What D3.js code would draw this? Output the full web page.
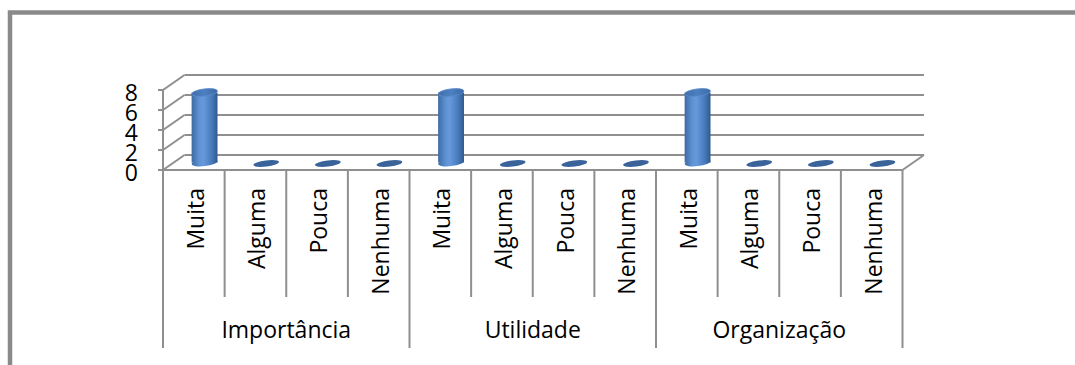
<!DOCTYPE html>
<html>
<head>
<meta charset="utf-8">
<script src="https://cdn.jsdelivr.net/npm/d3@7"></script>
<style>
  html, body { margin: 0; padding: 0; background: #ffffff; }
  svg { display: block; }
  text { font-family: "Open Sans", "Noto Sans", sans-serif; fill: #000; }
</style>
</head>
<body>
<svg id="chart" width="1075" height="365"></svg>
<script>
// Survey answers per aspect (number of respondents)
const groups = ["Importância", "Utilidade", "Organização"];
const levels = ["Muita", "Alguma", "Pouca", "Nenhuma"];
const importancia = [7, 0, 0, 0];
const utilidade = [7, 0, 0, 0];
const organizacao = [7, 0, 0, 0];
const yTicks = [0, 2, 4, 6, 8];

const seriesByGroup = [importancia, utilidade, organizacao];
const rows = [];
groups.forEach((g, gi) => levels.forEach((l, li) => {
  rows.push({ key: g + "|" + l, group: g, level: l, value: seriesByGroup[gi][li] });
}));

const svg = d3.select("#chart");

// plot geometry (front plane) and 3D depth offset
const x = d3.scaleBand().domain(rows.map(d => d.key)).range([163, 902.5]).padding(0);
const y = d3.scaleLinear().domain([0, 8]).range([170, 90]);
const depth = { dx: 21.5, dy: -15 };
const gridColor = "#8f8f8f";

// outer chart frame
svg.append("rect")
  .attr("x", 10).attr("y", 12.5)
  .attr("width", 1100).attr("height", 400)
  .attr("fill", "none").attr("stroke", "#8a8a8a").attr("stroke-width", 4.5);

const x0 = x.range()[0], x1 = x.range()[1];

// back wall gridlines
svg.append("g").selectAll("line").data(yTicks).join("line")
  .attr("x1", x0 + depth.dx).attr("x2", x1 + depth.dx)
  .attr("y1", d => y(d) + depth.dy).attr("y2", d => y(d) + depth.dy)
  .attr("stroke", gridColor).attr("stroke-width", 2);

// side wall gridlines
svg.append("g").selectAll("line").data(yTicks).join("line")
  .attr("x1", x0).attr("y1", d => y(d))
  .attr("x2", x0 + depth.dx).attr("y2", d => y(d) + depth.dy)
  .attr("stroke", gridColor).attr("stroke-width", 2);

// floor front edge and right edge
svg.append("line")
  .attr("x1", x0).attr("x2", x1).attr("y1", y(0)).attr("y2", y(0))
  .attr("stroke", gridColor).attr("stroke-width", 2);
svg.append("line")
  .attr("x1", x1).attr("y1", y(0)).attr("x2", x1 + depth.dx).attr("y2", y(0) + depth.dy)
  .attr("stroke", gridColor).attr("stroke-width", 2);

// value axis
svg.append("line")
  .attr("x1", x0).attr("x2", x0).attr("y1", y(8)).attr("y2", y(0))
  .attr("stroke", gridColor).attr("stroke-width", 2);
svg.append("g").selectAll("line").data(yTicks).join("line")
  .attr("x1", x0 - 5).attr("x2", x0).attr("y1", d => y(d)).attr("y2", d => y(d))
  .attr("stroke", gridColor).attr("stroke-width", 2);
svg.append("g").selectAll("text").data(yTicks).join("text")
  .attr("x", 138).attr("y", d => y(d) + 1.5)
  .attr("text-anchor", "end").attr("dominant-baseline", "central")
  .attr("font-size", 23)
  .text(d => d);

// cylinder shading
const defs = svg.append("defs");
const grad = defs.append("linearGradient").attr("id", "cyl")
  .attr("x1", "0%").attr("x2", "100%").attr("y1", "0%").attr("y2", "0%");
[["0%", "#3d6aa3"], ["30%", "#5f93d6"], ["45%", "#6699dc"], ["75%", "#4a7dbf"], ["100%", "#2f5a91"]]
  .forEach(([o, c]) => grad.append("stop").attr("offset", o).attr("stop-color", c));
const capGrad = defs.append("linearGradient").attr("id", "cap")
  .attr("x1", "0%").attr("x2", "100%").attr("y1", "0%").attr("y2", "0%");
[["0%", "#3f6eab"], ["50%", "#4d80c2"], ["100%", "#3b69a4"]]
  .forEach(([o, c]) => capGrad.append("stop").attr("offset", o).attr("stop-color", c));

const rx = x.bandwidth() * 0.21;
const ry = 3.6;
const tilt = -7;
const cx = d => x(d.key) + x.bandwidth() / 2 + depth.dx / 2;
const yAt = v => y(v) + depth.dy / 2;

const bars = svg.append("g").selectAll("g").data(rows).join("g");
bars.each(function (d) {
  const g = d3.select(this);
  const c = cx(d), yb = yAt(0), yt = yAt(d.value);
  if (d.value > 0) {
    g.append("ellipse").attr("cx", c).attr("cy", yb).attr("rx", rx).attr("ry", ry)
      .attr("transform", `rotate(${tilt},${c},${yb})`).attr("fill", "url(#cyl)");
    g.append("rect").attr("x", c - rx).attr("y", yt).attr("width", 2 * rx).attr("height", yb - yt)
      .attr("fill", "url(#cyl)");
    g.append("ellipse").attr("cx", c).attr("cy", yt).attr("rx", rx).attr("ry", ry)
      .attr("transform", `rotate(${tilt},${c},${yt})`)
      .attr("fill", "url(#cap)").attr("stroke", "#5a8bcb").attr("stroke-width", 0.8);
  } else {
    g.append("ellipse").attr("cx", c).attr("cy", yb + 1).attr("rx", rx).attr("ry", 3)
      .attr("transform", `rotate(${tilt},${c},${yb + 1})`).attr("fill", "#3a6499");
  }
});

// category axis: separators
const bounds = d3.range(rows.length + 1);
svg.append("g").selectAll("line").data(bounds).join("line")
  .attr("x1", i => x0 + i * x.bandwidth()).attr("x2", i => x0 + i * x.bandwidth())
  .attr("y1", y(0)).attr("y2", i => (i % levels.length === 0 ? 348 : 297))
  .attr("stroke", gridColor).attr("stroke-width", 2);

// level labels (vertical)
svg.append("g").selectAll("text").data(rows).join("text")
  .attr("transform", d => `translate(${x(d.key) + x.bandwidth() / 2 + 1},188) rotate(-90)`)
  .attr("text-anchor", "end").attr("dominant-baseline", "central")
  .attr("font-size", 23)
  .text(d => d.level);

// group labels
svg.append("g").selectAll("text").data(groups).join("text")
  .attr("x", (g, gi) => x0 + (gi * levels.length + levels.length / 2) * x.bandwidth())
  .attr("y", 338)
  .attr("text-anchor", "middle")
  .attr("font-size", 23)
  .text(g => g);
</script>
</body>
</html>
